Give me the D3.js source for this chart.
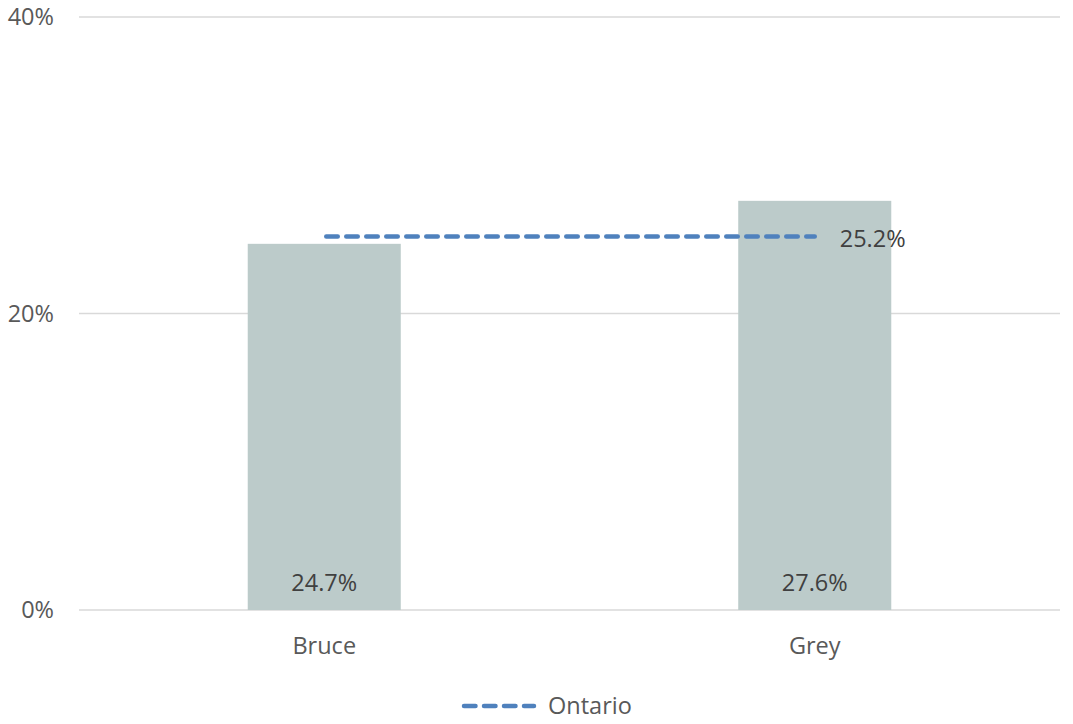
<!DOCTYPE html>
<html>
<head>
<meta charset="utf-8">
<script src="https://cdn.jsdelivr.net/npm/d3@7"></script>
<style>
  body { margin: 0; background: #fff; }
  svg text { font-family: "Open Sans", "Noto Sans", sans-serif; font-size: 23.5px; }
</style>
</head>
<body>
<svg id="chart"></svg>
<script>
const WIDTH = 1073;
const HEIGHT = 724;

// Datos
const regiones = ["Bruce", "Grey"];
const valores = [24.7, 27.6];
const ontario = 25.2;
const ticks_y = [0, 20, 40];

const MARGIN = { top: 17, bottom: 114, left: 79, right: 13 };
const width = WIDTH - MARGIN.left - MARGIN.right;
const height = HEIGHT - MARGIN.top - MARGIN.bottom;

const svg = d3.select('svg#chart')
                .attr('width', WIDTH)
                .attr('height', HEIGHT);

const g = svg.append('g')
                .attr('transform', `translate(${MARGIN.left}, ${MARGIN.top})`);

const escalaX = d3.scaleBand().domain(regiones).range([0, width]).padding(0);
const escalaY = d3.scaleLinear().domain([0, 40]).range([height, 0]);

const bar_w = escalaX.bandwidth() * 0.312;
const centro = d => escalaX(d) + escalaX.bandwidth() / 2;

// Grilla
g.selectAll('line.grid')
    .data(ticks_y)
    .join('line')
        .attr('class', 'grid')
        .attr('x1', 0)
        .attr('x2', width)
        .attr('y1', d => escalaY(d))
        .attr('y2', d => escalaY(d))
        .attr('stroke', '#d9d9d9')
        .attr('stroke-width', 1.5);

g.selectAll('text.ytick')
    .data(ticks_y)
    .join('text')
        .attr('class', 'ytick')
        .attr('x', -25)
        .attr('y', d => escalaY(d))
        .attr('dy', '0.35em')
        .attr('text-anchor', 'end')
        .attr('fill', '#595959')
        .text(d => `${d}%`);

// Barras
g.selectAll('rect.bar')
    .data(regiones)
    .join('rect')
        .attr('class', 'bar')
        .attr('x', d => centro(d) - bar_w / 2)
        .attr('width', bar_w)
        .attr('y', (d, i) => escalaY(valores[i]))
        .attr('height', (d, i) => escalaY(0) - escalaY(valores[i]))
        .attr('fill', '#bccbca');

g.selectAll('text.valor')
    .data(regiones)
    .join('text')
        .attr('class', 'valor')
        .attr('x', d => centro(d))
        .attr('y', escalaY(0) - 27)
        .attr('dy', '0.35em')
        .attr('text-anchor', 'middle')
        .attr('fill', '#404040')
        .text((d, i) => `${valores[i].toFixed(1)}%`);

g.selectAll('text.cat')
    .data(regiones)
    .join('text')
        .attr('class', 'cat')
        .attr('x', d => centro(d))
        .attr('y', escalaY(0) + 36)
        .attr('dy', '0.35em')
        .attr('text-anchor', 'middle')
        .attr('fill', '#595959')
        .text(d => d);

// Linea Ontario
const x1 = centro(regiones[0]);
const x2 = centro(regiones[1]);

g.append('line')
    .attr('x1', x1 + 2)
    .attr('x2', x2)
    .attr('y1', escalaY(ontario))
    .attr('y2', escalaY(ontario))
    .attr('stroke', '#4f81bd')
    .attr('stroke-width', 4.5)
    .attr('stroke-linecap', 'round')
    .attr('stroke-dasharray', '11.5,8.5');

g.append('text')
    .attr('x', x2 + 25)
    .attr('y', escalaY(ontario) + 2)
    .attr('dy', '0.35em')
    .attr('fill', '#404040')
    .text(`${ontario.toFixed(1)}%`);

// Leyenda
const leyenda = svg.append('g').attr('transform', `translate(464, 706)`);

leyenda.append('line')
    .attr('x1', 0)
    .attr('x2', 70)
    .attr('stroke', '#4f81bd')
    .attr('stroke-width', 4.5)
    .attr('stroke-linecap', 'round')
    .attr('stroke-dasharray', '11.5,8.5');

leyenda.append('text')
    .attr('x', 84)
    .attr('dy', '0.35em')
    .attr('fill', '#595959')
    .text('Ontario');
</script>
</body>
</html>
